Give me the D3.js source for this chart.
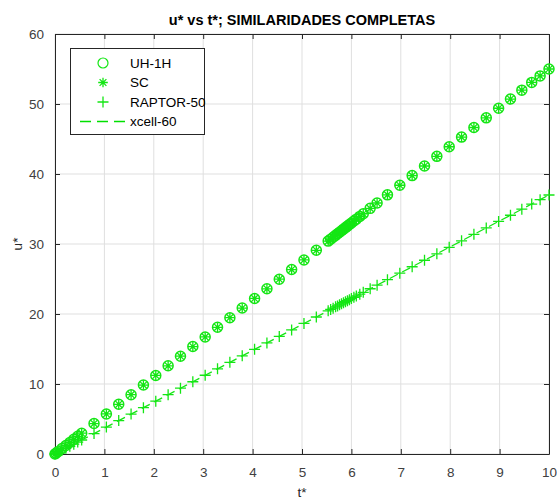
<!DOCTYPE html>
<html>
<head>
<meta charset="utf-8">
<script src="https://cdn.jsdelivr.net/npm/d3@7"></script>
<style>
  html, body { margin: 0; padding: 0; background: #ffffff; }
  svg { display: block; }
  text { font-family: "Liberation Sans", Arial, sans-serif; }
</style>
</head>
<body>
<svg id="chart" width="557" height="502"></svg>
<script>
// ---- data ----
const tStar = [0, 0.02, 0.06, 0.14, 0.22, 0.30, 0.38, 0.46, 0.54, 0.79, 1.04, 1.29, 1.54, 1.79, 2.04, 2.29, 2.54, 2.79, 3.04, 3.29, 3.54, 3.79, 4.04, 4.29, 4.54, 4.79, 5.04, 5.29, 5.53, 5.58, 5.63, 5.68, 5.72, 5.76, 5.80, 5.84, 5.88, 5.92, 5.96, 6.00, 6.05, 6.10, 6.17, 6.24, 6.38, 6.52, 6.73, 6.98, 7.23, 7.48, 7.73, 7.98, 8.23, 8.48, 8.73, 8.98, 9.22, 9.45, 9.65, 9.82, 10.0];
const uUH1H = [0, 0.11, 0.33, 0.77, 1.21, 1.65, 2.09, 2.53, 2.97, 4.35, 5.72, 7.10, 8.47, 9.85, 11.22, 12.60, 13.97, 15.35, 16.72, 18.10, 19.47, 20.85, 22.22, 23.60, 24.97, 26.35, 27.72, 29.10, 30.42, 30.69, 30.97, 31.24, 31.46, 31.68, 31.90, 32.12, 32.34, 32.56, 32.78, 33.00, 33.28, 33.55, 33.94, 34.32, 35.09, 35.86, 37.02, 38.39, 39.77, 41.14, 42.52, 43.89, 45.27, 46.64, 48.02, 49.39, 50.71, 51.98, 53.08, 54.01, 55.00];
const uSC = [0, 0.11, 0.33, 0.77, 1.21, 1.65, 2.09, 2.53, 2.97, 4.35, 5.72, 7.10, 8.47, 9.85, 11.22, 12.60, 13.97, 15.35, 16.72, 18.10, 19.47, 20.85, 22.22, 23.60, 24.97, 26.35, 27.72, 29.10, 30.42, 30.69, 30.97, 31.24, 31.46, 31.68, 31.90, 32.12, 32.34, 32.56, 32.78, 33.00, 33.28, 33.55, 33.94, 34.32, 35.09, 35.86, 37.02, 38.39, 39.77, 41.14, 42.52, 43.89, 45.27, 46.64, 48.02, 49.39, 50.71, 51.98, 53.08, 54.01, 55.00];
const uRAPTOR50 = [0, 0.07, 0.22, 0.52, 0.81, 1.11, 1.41, 1.70, 2.00, 2.92, 3.85, 4.77, 5.70, 6.62, 7.55, 8.47, 9.40, 10.32, 11.25, 12.17, 13.10, 14.02, 14.95, 15.87, 16.80, 17.72, 18.65, 19.57, 20.46, 20.65, 20.83, 21.02, 21.16, 21.31, 21.46, 21.61, 21.76, 21.90, 22.05, 22.20, 22.39, 22.57, 22.83, 23.09, 23.61, 24.12, 24.90, 25.83, 26.75, 27.68, 28.60, 29.53, 30.45, 31.38, 32.30, 33.23, 34.11, 34.97, 35.71, 36.33, 37.00];
const uXcell60 = [0, 0.07, 0.22, 0.52, 0.81, 1.11, 1.41, 1.70, 2.00, 2.92, 3.85, 4.77, 5.70, 6.62, 7.55, 8.47, 9.40, 10.32, 11.25, 12.17, 13.10, 14.02, 14.95, 15.87, 16.80, 17.72, 18.65, 19.57, 20.46, 20.65, 20.83, 21.02, 21.16, 21.31, 21.46, 21.61, 21.76, 21.90, 22.05, 22.20, 22.39, 22.57, 22.83, 23.09, 23.61, 24.12, 24.90, 25.83, 26.75, 27.68, 28.60, 29.53, 30.45, 31.38, 32.30, 33.23, 34.11, 34.97, 35.71, 36.33, 37.00];
const xTicks = [0, 1, 2, 3, 4, 5, 6, 7, 8, 9, 10];
const yTicks = [0, 10, 20, 30, 40, 50, 60];
const legendLabels = ["UH-1H", "SC", "RAPTOR-50", "xcell-60"];
const titleText = "u* vs t*; SIMILARIDADES COMPLETAS";

// ---- layout ----
const svg = d3.select("#chart");
const L = 55, R = 549, T = 34, B = 454;
const x = d3.scaleLinear().domain([0, 10]).range([L, R]);
const y = d3.scaleLinear().domain([0, 60]).range([B, T]);
const green = "#14e614";
const axisCol = "#262626";

// grid
const grid = svg.append("g");
grid.selectAll(".gx").data(xTicks).enter().append("line")
  .attr("x1", d => x(d)).attr("x2", d => x(d)).attr("y1", T).attr("y2", B)
  .attr("stroke", "#dfdfdf").attr("stroke-width", 1);
grid.selectAll(".gy").data(yTicks).enter().append("line")
  .attr("y1", d => y(d)).attr("y2", d => y(d)).attr("x1", L).attr("x2", R)
  .attr("stroke", "#dfdfdf").attr("stroke-width", 1);

// axes
const tickLen = 5;
const xAxisB = d3.axisBottom(x).tickValues(xTicks).tickSizeInner(-tickLen).tickSizeOuter(0).tickPadding(13).tickFormat(d3.format("d"));
const xAxisT = d3.axisTop(x).tickValues(xTicks).tickSizeInner(-tickLen).tickSizeOuter(0).tickFormat("");
const yAxisL = d3.axisLeft(y).tickValues(yTicks).tickSizeInner(-tickLen).tickSizeOuter(0).tickPadding(11).tickFormat(d3.format("d"));
const yAxisR = d3.axisRight(y).tickValues(yTicks).tickSizeInner(-tickLen).tickSizeOuter(0).tickFormat("");

function styleAxis(g) {
  g.select(".domain").attr("stroke", axisCol).attr("stroke-width", 1);
  g.selectAll(".tick line").attr("stroke", axisCol).attr("stroke-width", 1);
  g.selectAll(".tick text").attr("fill", "#404040").style("font-size", "13.5px")
    .style("font-family", "'Liberation Sans', Arial, sans-serif");
}
svg.append("g").attr("transform", `translate(0,${B})`).call(xAxisB).call(styleAxis);
svg.append("g").attr("transform", `translate(0,${T})`).call(xAxisT).call(styleAxis);
svg.append("g").attr("transform", `translate(${L},0)`).call(yAxisL).call(styleAxis);
svg.append("g").attr("transform", `translate(${R},0)`).call(yAxisR).call(styleAxis);

// marker helpers
function circleMark(g, cx, cy, sw) {
  g.append("circle").attr("cx", cx).attr("cy", cy).attr("r", 5)
    .attr("fill", "none").attr("stroke", green).attr("stroke-width", sw || 1.5);
}
function starMark(g, cx, cy) {
  const r = 4.8;
  const p = [];
  for (let k = 0; k < 4; k++) {
    const a = k * Math.PI / 4;
    p.push(`M${cx - r * Math.cos(a)},${cy - r * Math.sin(a)}L${cx + r * Math.cos(a)},${cy + r * Math.sin(a)}`);
  }
  g.append("path").attr("d", p.join("")).attr("stroke", green).attr("stroke-width", 1.3).attr("fill", "none");
}
function plusMark(g, cx, cy) {
  const r = 5.5;
  g.append("path").attr("d", `M${cx - r},${cy}L${cx + r},${cy}M${cx},${cy - r}L${cx},${cy + r}`)
    .attr("stroke", green).attr("stroke-width", 1.3).attr("fill", "none");
}

const plot = svg.append("g");

// xcell-60 dashed line
const line = d3.line().x((d, i) => x(tStar[i])).y(d => y(d));
plot.append("path").datum(uXcell60).attr("d", line)
  .attr("fill", "none").attr("stroke", green).attr("stroke-width", 1.3)
  .attr("stroke-dasharray", "9,5");

// markers
uUH1H.forEach((v, i) => circleMark(plot, x(tStar[i]), y(v)));
uSC.forEach((v, i) => starMark(plot, x(tStar[i]), y(v)));
uRAPTOR50.forEach((v, i) => plusMark(plot, x(tStar[i]), y(v)));

// legend
const lg = svg.append("g");
lg.append("rect").attr("x", 70.5).attr("y", 48.5).attr("width", 134).attr("height", 86)
  .attr("fill", "#ffffff").attr("stroke", axisCol).attr("stroke-width", 1);
const rowY = [63, 82.5, 102, 121.5];
const mx = 103;
circleMark(lg, mx, rowY[0], 1.2);
starMark(lg, mx, rowY[1]);
plusMark(lg, mx, rowY[2]);
lg.append("path").attr("d", "M80,121.5H127")
  .attr("stroke", "#00e000").attr("stroke-width", 1.6).attr("fill", "none").attr("stroke-dasharray", "11,6");
lg.selectAll(".lt").data(legendLabels).enter().append("text")
  .attr("x", 130).attr("y", (d, i) => rowY[i]).attr("dy", "0.35em")
  .attr("fill", "#000000").style("font-size", "13.5px").text(d => d);

// title and labels
svg.append("text").attr("x", (L + R) / 2).attr("y", 25).attr("text-anchor", "middle")
  .style("font-size", "14.5px").style("font-weight", "bold").attr("fill", "#000000").text(titleText);
svg.append("text").attr("x", (L + R) / 2).attr("y", 497).attr("text-anchor", "middle")
  .style("font-size", "13.5px").attr("fill", "#262626").text("t*");
svg.append("text").attr("transform", `translate(22,${(T + B) / 2}) rotate(-90)`)
  .attr("text-anchor", "middle").style("font-size", "13.5px").attr("fill", "#262626").text("u*");
</script>
</body>
</html>
